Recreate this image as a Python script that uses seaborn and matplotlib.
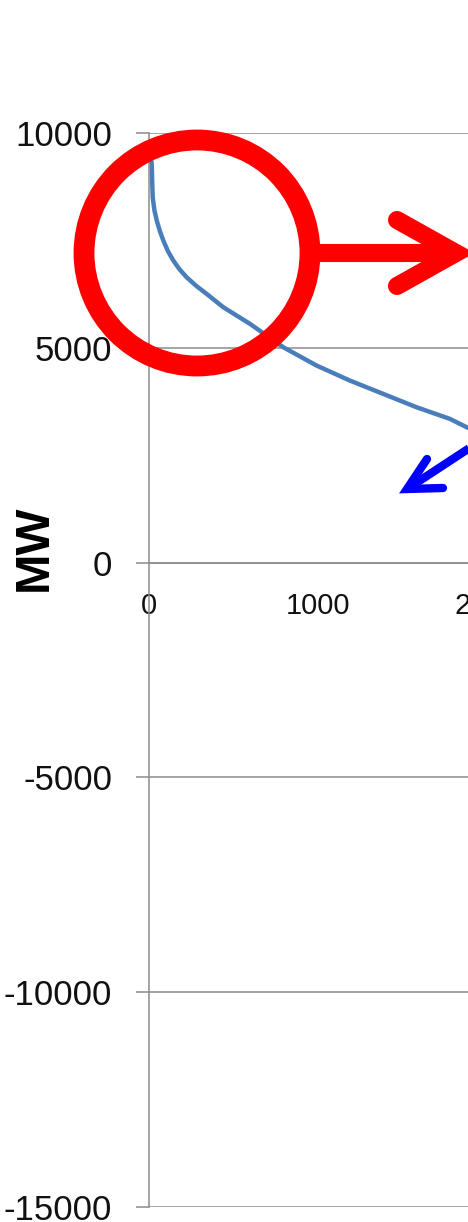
import numpy as np
import pandas as pd
import seaborn as sns
import matplotlib.pyplot as plt
from matplotlib.lines import Line2D
from matplotlib.patches import Ellipse

# ---- data (load duration curve) ----
hours = [0, 5, 10, 16, 19, 22, 32, 46, 64, 85, 112, 144, 180, 223, 280, 341, 440, 598, 795, 992, 1189, 1386, 1584, 1781, 1880, 1960]
mw = [9800, 9600, 9450, 9281, 8850, 8503, 8200, 7961, 7720, 7495, 7250, 7030, 6830, 6641, 6440, 6255, 5943, 5556, 5012, 4586, 4237, 3927, 3615, 3345, 3150, 3020]
y_ticks = [10000, 5000, 0, -5000, -10000, -15000]
x_ticks = [0, 1000, 2000]
y_label = "MW"

W, H = 468, 1222
sns.set_theme(style="white")
plt.rcParams['font.family'] = ['Liberation Sans', 'DejaVu Sans']

fig = plt.figure(figsize=(W / 100, H / 100), dpi=100)

def fx(px):
    return px / W

def fy(py):
    return 1 - py / H

# axes: left at px 149, y from 133 (10000) to 1207 (-15000); x scale 169 px per 1000
x_left, y_top, y_bot = 149, 133, 1207
xmax = 8760
ax_w = xmax / 1000 * 169
ax = fig.add_axes([fx(x_left), fy(y_bot), ax_w / W, (y_bot - y_top) / H])

df = pd.DataFrame({"hours": hours, "mw": mw})
sns.lineplot(data=df, x="hours", y="mw", ax=ax, color="#4a7ebb", linewidth=3.2)

ax.set_xlim(0, xmax)
ax.set_ylim(-15000, 10000)
ax.set_yticks(y_ticks)
ax.set_yticklabels([str(v) for v in y_ticks])
ax.set_xticks(x_ticks)
ax.set_xticklabels([str(v) for v in x_ticks])
ax.set_xlabel("")
ax.set_ylabel("")

grid_c = "#8c8c8c"
for v in y_ticks:
    ax.axhline(v, color=grid_c, linewidth=1.1, zorder=0.5)

for s in ["top", "right"]:
    ax.spines[s].set_visible(False)
ax.spines["left"].set_color(grid_c)
ax.spines["left"].set_linewidth(1.1)
ax.spines["bottom"].set_position(("data", 0))
ax.spines["bottom"].set_color(grid_c)
ax.spines["bottom"].set_linewidth(1.1)

ax.tick_params(axis="y", direction="out", length=9.4, width=1.1, color=grid_c,
               pad=17, labelsize=25, labelcolor="#111111", left=True)
ax.tick_params(axis="x", direction="out", length=9.4, width=1.1, color=grid_c,
               pad=12, labelsize=21, labelcolor="#111111", bottom=True)
for t in ax.xaxis.get_major_ticks():
    if t.get_loc() == 0:
        t.tick1line.set_visible(False)

fig.text(fx(34), fy(548), y_label, rotation=90, fontsize=35, fontweight="bold",
         ha="center", va="center", color="#000000")

# ---- annotations (figure pixel space) ----
red = "#ff0000"
ring = Ellipse((fx(197), fy(253)), 2 * 113 / W, 2 * 113 / H, transform=fig.transFigure,
               fill=False, edgecolor=red, linewidth=15, zorder=10)
fig.add_artist(ring)
fig.add_artist(Line2D([fx(318), fx(455)], [fy(253), fy(253)], transform=fig.transFigure,
                      color=red, linewidth=13, solid_capstyle="butt", zorder=10))
fig.add_artist(Line2D([fx(397), fx(456), fx(397)], [fy(220), fy(253), fy(286)],
                      transform=fig.transFigure, color=red, linewidth=13,
                      solid_capstyle="round", solid_joinstyle="miter", zorder=10))

blue = "#0000ff"
fig.add_artist(Line2D([fx(407), fx(500)], [fy(489), fy(428)], transform=fig.transFigure,
                      color=blue, linewidth=6, solid_capstyle="butt", zorder=10))
fig.add_artist(Line2D([fx(427), fx(407), fx(443)], [fy(459), fy(489), fy(488)],
                      transform=fig.transFigure, color=blue, linewidth=6,
                      solid_capstyle="round", solid_joinstyle="miter", zorder=10))

fig.savefig("out.png", dpi=100)
